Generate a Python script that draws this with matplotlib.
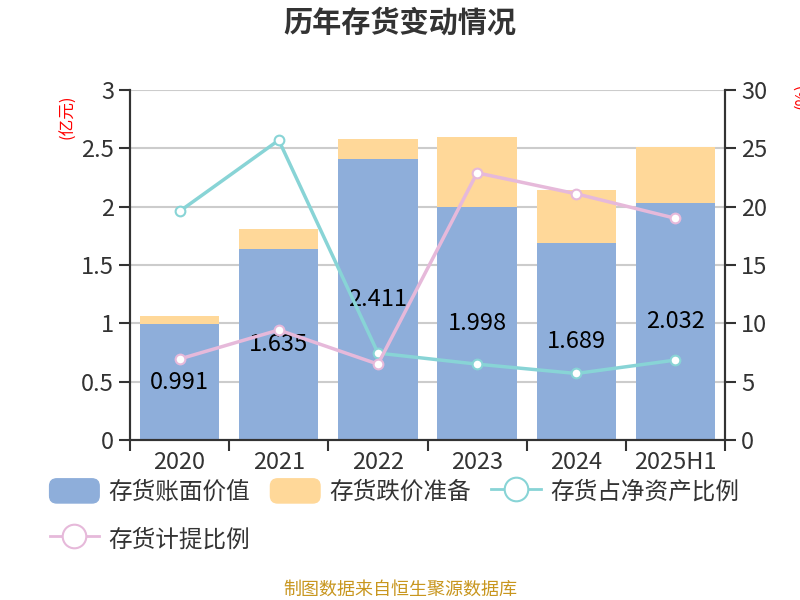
import numpy as np
import matplotlib
matplotlib.use("Agg")
import matplotlib.pyplot as plt
from matplotlib.lines import Line2D
from matplotlib.patches import FancyBboxPatch, Patch
from matplotlib.legend_handler import HandlerPatch

plt.rcParams['font.family'] = ['Noto Sans CJK SC', 'DejaVu Sans']

# Data
years = ['2020', '2021', '2022', '2023', '2024', '2025H1']
book_value = [0.991, 1.635, 2.411, 1.998, 1.689, 2.032]      # 亿元
impairment = [0.07, 0.173, 0.169, 0.599, 0.453, 0.478]       # 亿元
share_of_net_assets = [19.6, 25.7, 7.45, 6.5, 5.7, 6.85]     # %
provision_ratio = [6.94, 9.43, 6.5, 22.9, 21.1, 19.0]        # %

c_blue = '#8EAEDA'
c_orange = '#FFD899'
c_cyan = '#88D4D6'
c_pink = '#E6B9DA'
c_axis = '#333333'

fig = plt.figure(figsize=(8, 6), dpi=100)
ax = fig.add_axes([0.1625, 0.2667, 0.7438, 0.5833])
ax2 = ax.twinx()

x = np.arange(len(years))
bars = ax.bar(x, book_value, width=0.8, color=c_blue, zorder=2)
ax.bar(x, impairment, width=0.8, bottom=book_value, color=c_orange, zorder=2)
ax.bar_label(bars, labels=['%.3f' % v for v in book_value], label_type='center',
             fontsize=17, color='black', zorder=5)

ax2.plot(x, share_of_net_assets, color=c_cyan, lw=2.5, marker='o', ms=7,
         mfc='white', mec=c_cyan, mew=1.5, zorder=3)
ax2.plot(x, provision_ratio, color=c_pink, lw=2.5, marker='o', ms=7,
         mfc='white', mec=c_pink, mew=1.5, zorder=3)

ax.set_xlim(-0.5, len(years) - 0.5)
ax.set_ylim(0, 3)
ax2.set_ylim(0, 30)
ax.set_yticks([0, 0.5, 1, 1.5, 2, 2.5, 3])
ax.set_yticklabels(['0', '0.5', '1', '1.5', '2', '2.5', '3'])
ax2.set_yticks([0, 5, 10, 15, 20, 25, 30])

ax.set_xticks(x)
ax.set_xticklabels(years)
ax.set_xticks(np.arange(-0.5, len(years)), minor=True)
ax.tick_params(axis='x', which='major', length=0, pad=8, labelsize=17, labelcolor=c_axis)
ax.tick_params(axis='x', which='minor', length=8, width=1.5, color=c_axis)
ax.tick_params(axis='y', length=8, width=1.5, color=c_axis, labelsize=17, labelcolor=c_axis)
ax2.tick_params(axis='y', length=8, width=1.5, color=c_axis, labelsize=17, labelcolor=c_axis)

ax.grid(axis='y', color='#CCCCCC', lw=1.5, zorder=0)
ax.set_axisbelow(True)
for a in (ax, ax2):
    a.spines['top'].set_visible(False)
    for s in ('left', 'right', 'bottom'):
        a.spines[s].set_color(c_axis)
        a.spines[s].set_linewidth(1.5)

fig.text(0.5, 0.962, '历年存货变动情况', ha='center', va='center',
         fontsize=21, fontweight='bold', color='#333333')
fig.text(0.085, 0.805, '(亿元)', rotation=90, ha='center', va='center',
         fontsize=12, color='red')
fig.text(0.992, 0.84, '(%)', rotation=90, ha='left', va='center',
         fontsize=12, color='red')
fig.text(0.5, 0.018, '制图数据来自恒生聚源数据库', ha='center', va='center',
         fontsize=13, color='#C8961E')


def rounded(legend, orig_handle, xdescent, ydescent, width, height, fontsize):
    return FancyBboxPatch((-xdescent, -ydescent), width, height,
                          boxstyle='round,pad=0,rounding_size=%f' % (height * 0.3))


h_blue = Patch(color=c_blue)
h_orange = Patch(color=c_orange)
h_cyan = Line2D([], [], color=c_cyan, lw=2, marker='o', ms=17, mfc='white', mec=c_cyan, mew=1.5)
h_pink = Line2D([], [], color=c_pink, lw=2, marker='o', ms=17, mfc='white', mec=c_pink, mew=1.5)
handles = [h_blue, h_pink, h_orange, h_cyan]
labels = ['存货账面价值', '存货计提比例', '存货跌价准备', '存货占净资产比例']
fig.legend(handles, labels, ncol=3, loc='upper left', bbox_to_anchor=(0.062, 0.202),
           frameon=False, fontsize=17, labelcolor='#333333',
           handlelength=2.1, handleheight=1.2, handletextpad=0.4,
           columnspacing=0.85, labelspacing=0.95, borderaxespad=0, borderpad=0,
           handler_map={Patch: HandlerPatch(patch_func=rounded)})

fig.savefig('out.png', dpi=100)
